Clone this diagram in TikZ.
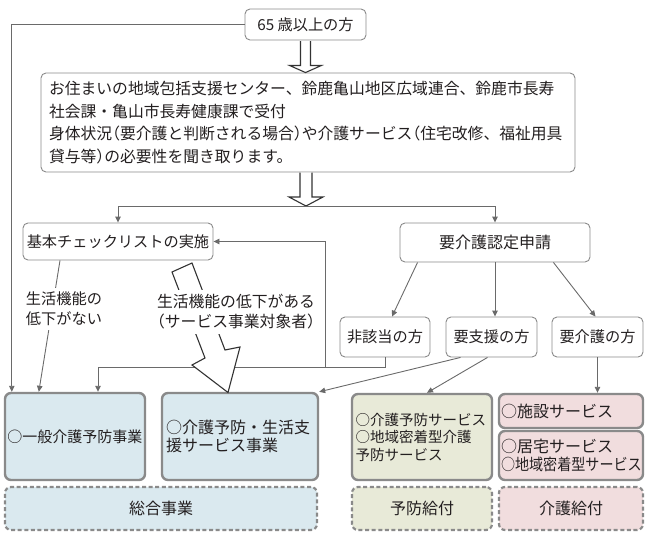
\documentclass[tikz,border=0pt]{standalone}
\usepackage{fontspec}
\setmainfont{Noto Sans CJK JP}
\usetikzlibrary{arrows.meta,calc}
\newcommand\hwp[1]{{\addfontfeature{RawFeature=+halt}#1}}
\definecolor{lg}{HTML}{6A6A6A}
\definecolor{bg}{HTML}{8A8A8A}
\definecolor{cblue}{HTML}{DAE9EF}
\definecolor{cgreen}{HTML}{E8EAD8}
\definecolor{cpink}{HTML}{F1DDDE}
\definecolor{tx}{HTML}{231F20}
\begin{document}
\begin{tikzpicture}[x=1pt,y=-1pt,
  every node/.style={font=\fontsize{15.2}{22.5}\selectfont, text=tx},
  rbox/.style={draw=bg, line width=0.9pt, rounded corners=5pt, fill=white, inner sep=0pt},
  fbox/.style={draw=bg, line width=2.4pt, rounded corners=6pt, inner sep=0pt},
  dbox/.style={draw=bg, line width=2.2pt, rounded corners=6pt, inner sep=0pt, dash pattern=on 4pt off 2.6pt},
  conn/.style={draw=lg, line width=0.9pt},
  arr/.style={conn, -{Triangle[length=6pt,width=5.5pt]}},
  hollow/.style={draw=black!80, line width=1.1pt, fill=white, line join=miter},
  lbl/.style={fill=white, inner xsep=2pt, inner ysep=4.5pt},
  fsmall/.style={font=\fontsize{14.5}{17.5}\selectfont},
  fmid/.style={font=\fontsize{16}{17.5}\selectfont},
  fbig/.style={font=\fontsize{16}{20}\selectfont}
]
\useasboundingbox (0,0) rectangle (646,541);

% top boxes
\node[rbox, minimum width=121, minimum height=31] (A) at (305.5,24.5) {65 歳以上の方};
\node[rbox, minimum width=534, minimum height=99, align=left, text width=518, font=\fontsize{15.8}{22.5}\selectfont] (B) at (308,122.5)
  {お住まいの地域包括支援センター、鈴鹿亀山地区広域連合、鈴鹿市長寿\\社会課・亀山市長寿健康課で受付\\身体状況\hwp{（}要介護と判断される場合\hwp{）}や介護サービス\hwp{（}住宅改修、福祉用具\\貸与等\hwp{）}の必要性を聞き取ります。};

% middle boxes
\node[rbox, minimum width=190, minimum height=37] (C) at (118,241.5) {基本チェックリストの実施};
\node[rbox, minimum width=190, minimum height=39, fbig] (D) at (495,242.5) {要介護認定申請};
\node[rbox, minimum width=90, minimum height=40] (E) at (385,337) {非該当の方};
\node[rbox, minimum width=91, minimum height=40] (F) at (491.5,337) {要支援の方};
\node[rbox, minimum width=91, minimum height=40] (G) at (597.5,337) {要介護の方};

% bottom boxes
\node[fbox, fill=cblue, minimum width=140, minimum height=87, font=\fontsize{15}{17.5}\selectfont] (J) at (75,436.5) {○一般介護予防事業};
\node[fbox, fill=cblue, minimum width=156, minimum height=87, align=left, text width=148, fmid] (H) at (240,436.5) {○介護予防・生活支\\援サービス事業};
\node[fbox, fill=cgreen, minimum width=140, minimum height=86, align=left, text width=133, fsmall] (I) at (422,437) {○介護予防サービス\\○地域密着型介護\\予防サービス};
\node[fbox, fill=cpink, minimum width=144, minimum height=34, align=left, text width=140, fmid] (K1) at (571,411) {○施設サービス};
\node[fbox, fill=cpink, minimum width=144, minimum height=49, align=left, text width=140, fmid] (K2) at (571,455.5) {○居宅サービス\\\scalebox{0.88}[1]{○地域密着型サービス}};

\node[dbox, fill=cblue, minimum width=312, minimum height=43, fbig] (M1) at (161,508.5) {総合事業};
\node[dbox, fill=cgreen, minimum width=140, minimum height=43, fbig] (M2) at (422,508.5) {予防給付};
\node[dbox, fill=cpink, minimum width=144, minimum height=43, fbig] (M3) at (571,508.5) {介護給付};

% hollow arrows
\coordinate (split) at (306,206);
\draw[hollow] ($(A.south)+(-5,0.6)$) -- ($(A.south)+(-5,25)$) -- ($(A.south)+(-16,25)$) -- (A.south |- B.north) -- ($(A.south)+(16,25)$) -- ($(A.south)+(5,25)$) -- ($(A.south)+(5,0.6)$);
\draw[hollow] ($(split)+(-6,-33.4)$) -- ($(split)+(-6,-9)$) -- ($(split)+(-17,-9)$) -- (split) -- ($(split)+(17,-9)$) -- ($(split)+(6,-9)$) -- ($(split)+(6,-33.4)$);

% connectors
\draw[arr] (split) -| (C.north);
\draw[arr] (split) -| (D.north);
\draw[arr] (A.west) -| ($(J.north west)+(8,0)$);
\coordinate (jn) at (325,367);
\draw[arr] (E.south) |- (jn) |- (C.east);
\draw[arr] (jn) -| ($(J.north)+(23,0)$);
\draw[arr] ($(C.south)+(-58,0)$) -- ($(J.north west)+(35,0)$);
\draw[arr] ($(D.south west)+(18,0)$) -- ($(E.north)+(7,0)$);
\draw[arr] (D.south) -- (D.south |- F.north);
\draw[arr] ($(D.south east)+(-37,0)$) -- ($(G.north)+(-2,0)$);
\draw[arr] ($(F.south)+(-31,0)$) -- (H.north east);
\draw[arr] ($(F.south)+(-4,0)$) -- ($(I.north)+(5,0)$);
\draw[arr] (G.south) -- (G.south |- K1.north);

% lightning arrow
\draw[hollow] (172,272) -- (192,263) -- (225,350) -- (240,347) -- (228,392.5) -- (192,365) -- (205,358) -- cycle;

% labels
\node[lbl, align=left, font=\fontsize{15.2}{20}\selectfont] (L1) at (64,309) {生活機能の\\低下がない};
\node[lbl, align=center, font=\fontsize{15.8}{20}\selectfont] (L2) at (236,312) {生活機能の低下がある\\\hwp{（}サービス事業対象者\hwp{）}};
\end{tikzpicture}
\end{document}
